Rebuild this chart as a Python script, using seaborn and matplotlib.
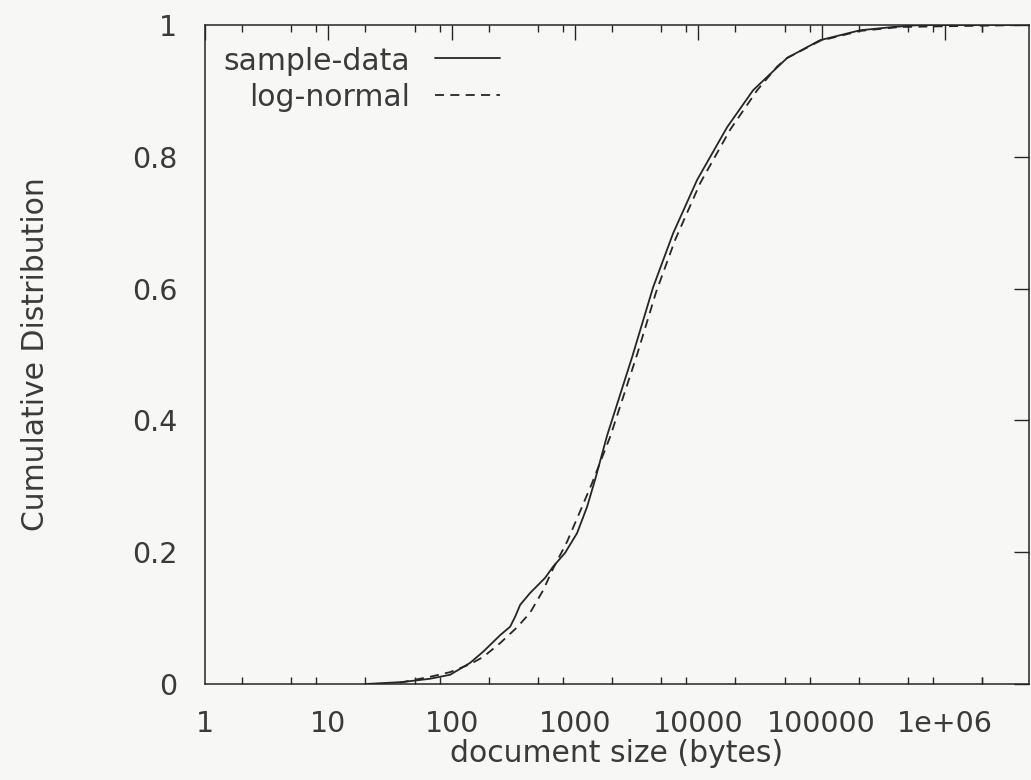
import numpy as np
import pandas as pd
import matplotlib
matplotlib.use("Agg")
import matplotlib.pyplot as plt
import seaborn as sns
from matplotlib.ticker import FixedLocator, FixedFormatter, NullLocator

# ---- data (document size in bytes, cumulative fraction)
sample_size = [20, 40, 67, 97, 141, 180, 247, 298, 327, 359, 432, 572, 664, 831,
               1040, 1254, 1455, 1821, 2904, 4299, 6250, 9780, 17130, 27800,
               52500, 97200, 205000, 380000, 630000, 4800000]
sample_cdf = [0.0, 0.003, 0.008, 0.014, 0.032, 0.049, 0.074, 0.087, 0.102, 0.120,
              0.138, 0.161, 0.178, 0.199, 0.229, 0.269, 0.310, 0.377, 0.496, 0.602,
              0.684, 0.765, 0.845, 0.901, 0.950, 0.977, 0.992, 0.997, 1.0, 1.0]

lognorm_size = [38, 67, 97, 141, 180, 247, 339, 432, 551, 664, 863, 1100, 1376,
                1927, 3190, 4550, 6490, 10350, 18100, 30000, 43600, 52500, 97200,
                205000, 433000, 4800000]
lognorm_cdf = [0.002, 0.011, 0.018, 0.030, 0.041, 0.062, 0.086, 0.108, 0.142, 0.175,
               0.216, 0.262, 0.305, 0.375, 0.500, 0.595, 0.674, 0.760, 0.841, 0.901,
               0.937, 0.950, 0.976, 0.991, 0.997, 1.0]

series_names = ["sample-data", "log-normal"]
x_major = [1, 10, 100, 1000, 10000, 100000, 1000000]
x_major_labels = ["1", "10", "100", "1000", "10000", "100000", "1e+06"]
x_minor_mult = [2, 5, 8]
y_ticks = [0, 0.2, 0.4, 0.6, 0.8, 1]
y_tick_labels = ["0", "0.2", "0.4", "0.6", "0.8", "1"]
x_label = "document size (bytes)"
y_label = "Cumulative Distribution"

# ---- style
sns.set_theme(style="white")
plt.rcParams["font.family"] = ["DejaVu Sans"]
bg = "#f7f7f6"
ink = "#262626"
txt = "#3a3a3a"

W, H = 1031, 780
fig = plt.figure(figsize=(W / 100, H / 100), dpi=100, facecolor=bg)
L, R, T, B = 205, 1029, 25, 684
ax = fig.add_axes([L / W, 1 - B / H, (R - L) / W, (B - T) / H])
ax.set_facecolor(bg)

df_s = pd.DataFrame({"size": sample_size, "cdf": sample_cdf})
df_l = pd.DataFrame({"size": lognorm_size, "cdf": lognorm_cdf})

sns.lineplot(data=df_s, x="size", y="cdf", ax=ax, color=ink, lw=1.3,
             sort=False, estimator=None)
sns.lineplot(data=df_l, x="size", y="cdf", ax=ax, color=ink, lw=1.3,
             sort=False, estimator=None, dashes=False)
ax.lines[1].set_dashes((5, 3.5))

ax.set_xscale("log")
ax.set_xlim(1, 4.8e6)
ax.set_ylim(0, 1)

minor = [m * d for d in x_major for m in x_minor_mult]
minor.append(x_minor_mult[0] * 1e6)
ax.xaxis.set_major_locator(FixedLocator(x_major))
ax.xaxis.set_major_formatter(FixedFormatter(x_major_labels))
ax.xaxis.set_minor_locator(FixedLocator(minor))
ax.xaxis.set_minor_formatter(FixedFormatter([""] * len(minor)))
ax.yaxis.set_major_locator(FixedLocator(y_ticks))
ax.yaxis.set_major_formatter(FixedFormatter(y_tick_labels))
ax.yaxis.set_minor_locator(NullLocator())

ax.tick_params(axis="both", which="major", direction="in", length=10.5, width=1.0,
               color=ink, top=True, right=True, labelsize=20.5, labelcolor=txt)
ax.tick_params(axis="x", which="major", pad=18.5)
ax.tick_params(axis="y", which="major", pad=20)
ax.tick_params(axis="x", which="minor", direction="in", length=5, width=1.0,
               color=ink, top=True, bottom=True)

for s in ax.spines.values():
    s.set_visible(True)
    s.set_color(ink)
    s.set_linewidth(1.1)

ax.set_xlabel(x_label, fontsize=21.5, color=txt)
ax.set_ylabel(y_label, fontsize=21.5, color=txt)
ax.xaxis.set_label_coords(0.5, (B - 739) / (B - T))
ax.yaxis.set_label_coords((50 - L) / (R - L), 0.5)

# ---- gnuplot-style key (text right-aligned, sample to its right)
def ax_x(px):
    return (px - L) / (R - L)

def ax_y(py):
    return (B - py) / (B - T)

key_rows = [(70, 58, None), (106, 95, (5, 3.5))]
for name, (base, ly, dash) in zip(series_names, key_rows):
    ax.text(ax_x(410), ax_y(base), name, transform=ax.transAxes, ha="right",
            va="baseline", fontsize=21.5, color=txt)
    ln, = ax.plot([ax_x(435), ax_x(500)], [ax_y(ly), ax_y(ly)],
                  transform=ax.transAxes, color=ink, lw=1.3)
    if dash:
        ln.set_dashes(dash)

fig.savefig("out.png", dpi=100, facecolor=bg)
